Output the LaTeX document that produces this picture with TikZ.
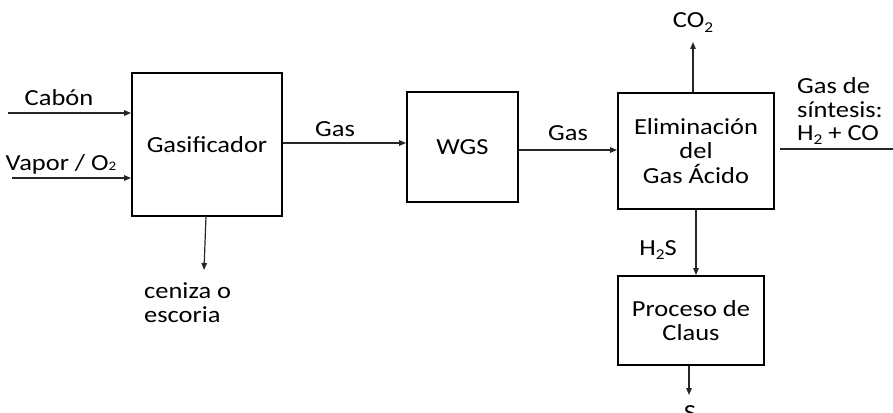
\documentclass[tikz,border=0pt]{standalone}
\usepackage{fontspec}
\setmainfont{Carlito}[FakeStretch=1.15]
\usetikzlibrary{arrows.meta}
% lowered subscript digit and plain small digit
\newcommand\lowsub[1]{\raisebox{-4.5pt}{\fontsize{15}{15}\selectfont #1}}
\newcommand\smalldigit[1]{{\fontsize{13}{13}\selectfont #1}}
\begin{document}
\begin{tikzpicture}[x=1pt,y=-1pt,
  every node/.style={font=\fontsize{23}{24.5}\selectfont, text=black},
  block/.style={draw=black, line width=1.8pt, align=center, inner sep=0pt},
  flow/.style={draw=black!85, line width=1.2pt, -{Triangle[length=7pt,width=5.5pt]}},
  plain/.style={draw=black!85, line width=1.2pt},
  lbl/.style={anchor=base, inner sep=0pt},
  lblleft/.style={anchor=base west, inner sep=0pt, align=left}]
\useasboundingbox (0,0) rectangle (893,412);

% process blocks
\node[block, minimum width=150pt, minimum height=143pt] (gas) at (207,144.5) {Gasificador};
\node[block, minimum width=111pt, minimum height=110pt] (wgs) at (462.5,147) {WGS};
\node[block, minimum width=156pt, minimum height=116pt] (elim) at (696,151)
  {Eliminación\\del\\Gas Ácido};
\node[block, minimum width=146pt, minimum height=89pt] (claus) at (691,320.5)
  {Proceso de\\Claus};

% free ends of the streams
\coordinate (cin) at (8,113);
\coordinate (vin) at (12,178);
\coordinate (ash) at (204,270);
\coordinate (co2) at (693,42);
\coordinate (syn) at (893,149);
\coordinate (sout) at (689,395);

% feeds into the gasifier
\draw[flow] (cin) -- (cin -| gas.west);
\draw[flow] (vin) -- (vin -| gas.west);
\draw[flow] (206,216) -- (ash);

% main gas line
\draw[flow] (gas.east |- 0,143) -- (wgs.west |- 0,143);
\draw[flow] (wgs.east |- 0,150) -- (elim.west |- 0,150);

% products of acid gas removal
\draw[flow] (co2 |- elim.north) -- (co2);
\draw[plain] ([xshift=5pt]elim.east |- syn) -- (syn);
\draw[flow] (696,0 |- elim.south) -- (696,0 |- claus.north);
\draw[flow] (sout |- claus.south) -- (sout);

% stream labels
\node[lbl] (lc) at (59,105) {Cabón};
\node[lbl] (lv) at (61,170) {Vapor / O\smalldigit{2}};
\node[lblleft] (la1) at (144,298) {ceniza o};
\node[lblleft] (la2) at (144,322) {escoria};
\node[lbl] (lg1) at (335,136) {Gas};
\node[lbl] (lg2) at (568,140) {Gas};
\node[lbl] (lco2) at (693,28) {CO\lowsub{2}};
\node[lblleft] (ls1) at (797,93) {Gas de};
\node[lblleft] (ls2) at (797,117) {síntesis:};
\node[lblleft] (ls3) at (797,140) {H\lowsub{2} + CO};
\node[lbl] (lh2s) at (658,255) {H\lowsub{2}S};
\node[lbl] (ls) at (690,420) {S};
\end{tikzpicture}
\end{document}
